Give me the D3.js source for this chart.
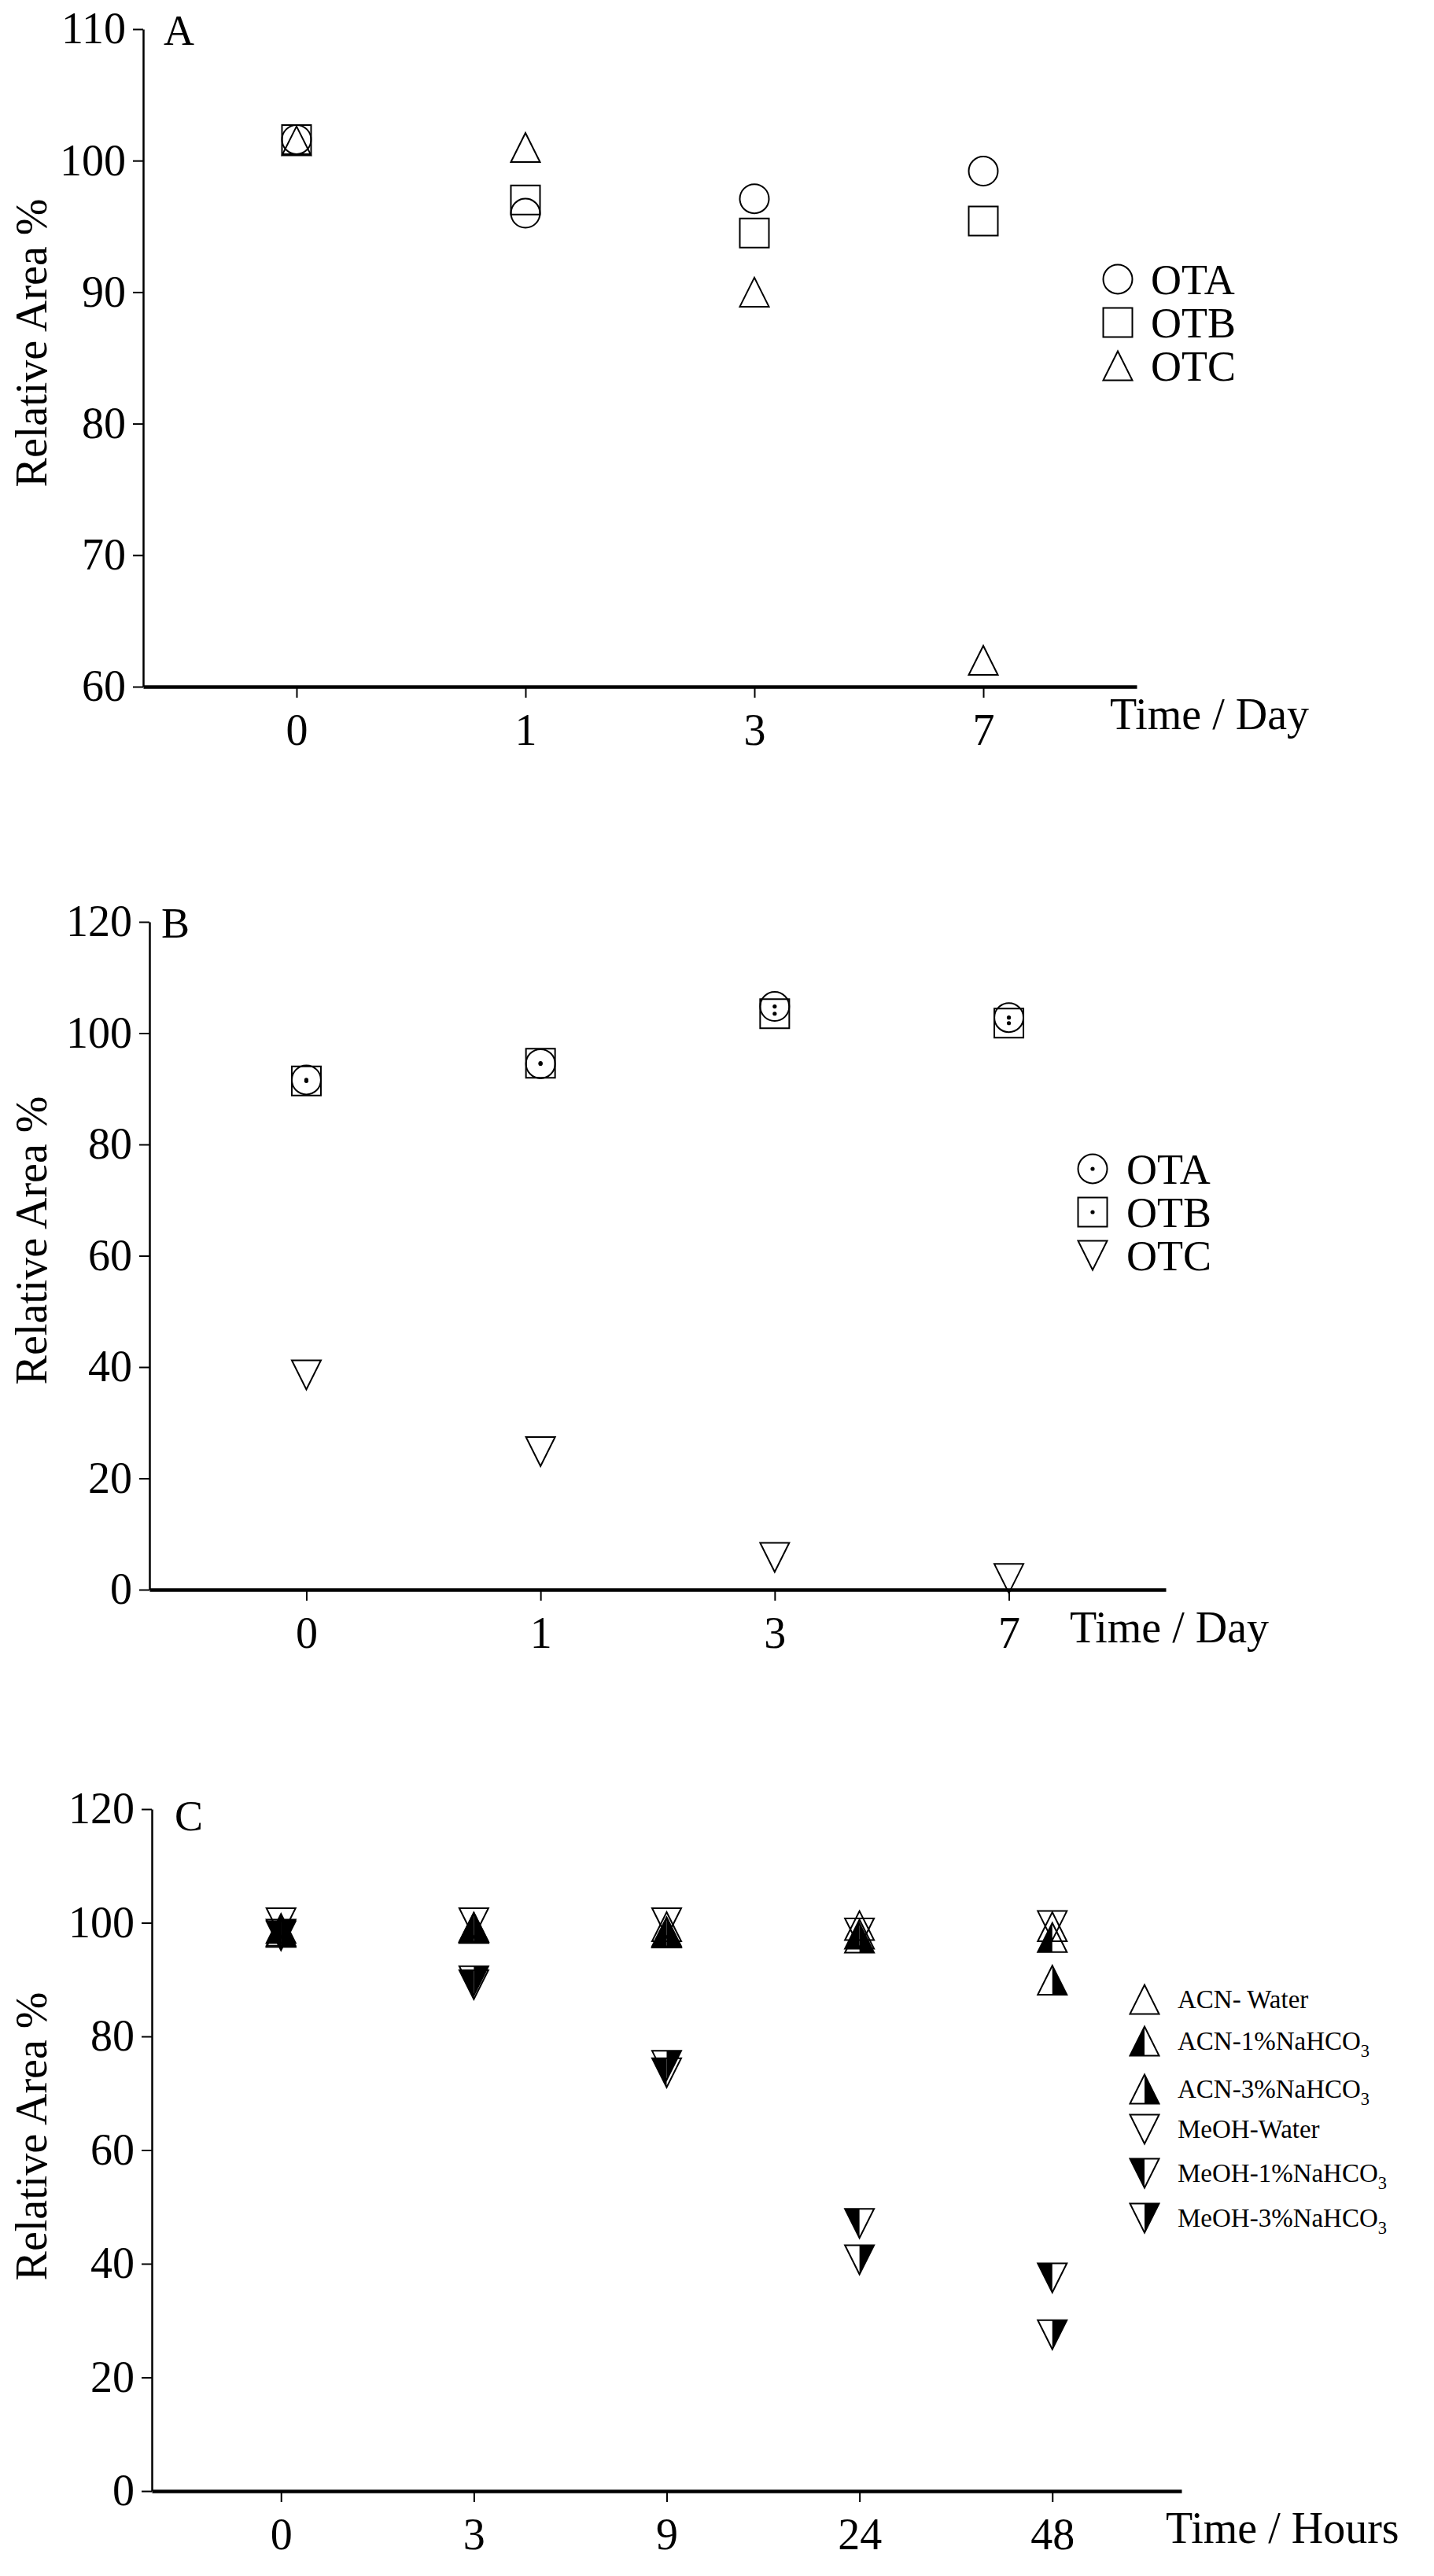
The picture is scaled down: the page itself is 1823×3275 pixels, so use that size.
<!DOCTYPE html>
<html>
<head>
<meta charset="utf-8">
<script src="https://cdn.jsdelivr.net/npm/d3@7"></script>
<style>
  html, body { margin: 0; padding: 0; background: #fff; }
  svg { display: block; }
</style>
</head>
<body>
<svg id="chart" width="1823" height="3275"></svg>
<script>
// ---------------- DATA ----------------
// Panel A
const daysA = ["0", "1", "3", "7"];
const ticksA = [60, 70, 80, 90, 100, 110];
const otaA = [101.6, 96.0, 97.1, 99.2];
const otbA = [101.6, 97.0, 94.5, 95.4];
const otcA = [101.5, 101.0, 90.0, 62.0];

// Panel B
const daysB = ["0", "1", "3", "7"];
const ticksB = [0, 20, 40, 60, 80, 100, 120];
const otaB = [91.6, 94.5, 104.8, 102.8];
const otbB = [91.4, 94.6, 103.5, 101.8];
const otcB = [38.6, 24.8, 5.8, 2.0];

// Panel C
const hoursC = ["0", "3", "9", "24", "48"];
const ticksC = [0, 20, 40, 60, 80, 100, 120];
const acnWater = [98.5, 99.2, 99.3, 99.5, 99.3];
const acn1 = [99.0, 99.2, 98.4, 98.0, 97.4];
const acn3 = [98.3, 99.0, 98.2, 97.3, 89.9];
const meohWater = [100.0, 100.0, 100.0, 98.2, 99.5];
const meoh1 = [97.7, 89.1, 73.6, 47.1, 37.5];
const meoh3 = [98.0, 89.8, 74.9, 40.7, 27.5];

const namesA = ["OTA", "OTB", "OTC"];
const namesC = ["ACN- Water", "ACN-1%NaHCO", "ACN-3%NaHCO", "MeOH-Water", "MeOH-1%NaHCO", "MeOH-3%NaHCO"];
const subsC = ["", "3", "3", "", "3", "3"];

// ---------------- DRAWING ----------------
const SERIF = "'Liberation Serif', 'Times New Roman', serif";
const svg = d3.select("#chart");
svg.append("rect").attr("width", 1823).attr("height", 3275).attr("fill", "#fff");

function shapePath(type, cx, cy, s) {
  const h = s / 2;
  const p = d3.path();
  if (type === "circle") {
    p.arc(cx, cy, h, 0, 2 * Math.PI);
  } else if (type === "square") {
    p.rect(cx - h, cy - h, s, s);
  } else if (type === "up") {
    p.moveTo(cx, cy - h); p.lineTo(cx + h, cy + h); p.lineTo(cx - h, cy + h); p.closePath();
  } else if (type === "down") {
    p.moveTo(cx - h, cy - h); p.lineTo(cx + h, cy - h); p.lineTo(cx, cy + h); p.closePath();
  } else if (type === "upL") {
    p.moveTo(cx, cy - h); p.lineTo(cx, cy + h); p.lineTo(cx - h, cy + h); p.closePath();
  } else if (type === "upR") {
    p.moveTo(cx, cy - h); p.lineTo(cx + h, cy + h); p.lineTo(cx, cy + h); p.closePath();
  } else if (type === "downL") {
    p.moveTo(cx - h, cy - h); p.lineTo(cx, cy - h); p.lineTo(cx, cy + h); p.closePath();
  } else if (type === "downR") {
    p.moveTo(cx, cy - h); p.lineTo(cx + h, cy - h); p.lineTo(cx, cy + h); p.closePath();
  }
  return p.toString();
}

// marker spec: outline shape, optional half fill, optional center dot
function drawMarker(g, spec, cx, cy, s) {
  if (spec.half) {
    g.append("path").attr("d", shapePath(spec.half, cx, cy, s)).attr("fill", "#000").attr("stroke", "none");
  }
  g.append("path").attr("d", shapePath(spec.shape, cx, cy, s))
    .attr("fill", "none").attr("stroke", "#000").attr("stroke-width", 2).attr("stroke-linejoin", "miter");
  if (spec.dot) {
    g.append("circle").attr("cx", cx).attr("cy", cy).attr("r", 2.6).attr("fill", "#000");
  }
}

function drawPanel(p) {
  const g = svg.append("g");
  const x = d3.scalePoint().domain(p.cats).range([p.x0, p.x1]).padding(0.67);
  const y = d3.scaleLinear().domain([p.ticks[0], p.ticks[p.ticks.length - 1]]).range([p.yBottom, p.yTop]);

  // y axis
  const ya = g.append("g").attr("transform", `translate(${p.x0},0)`)
    .call(d3.axisLeft(y).tickValues(p.ticks).tickSize(13).tickSizeOuter(0).tickPadding(9).tickFormat(d3.format("d")));
  ya.select(".domain").attr("stroke", "#000").attr("stroke-width", 2.5);
  ya.selectAll(".tick line").attr("stroke", "#000").attr("stroke-width", 2);
  ya.selectAll(".tick text").attr("font-family", SERIF).attr("font-size", 56).attr("fill", "#000");

  // x axis
  const xa = g.append("g").attr("transform", `translate(0,${p.yBottom})`)
    .call(d3.axisBottom(x).tickSize(14).tickSizeOuter(0).tickPadding(20));
  xa.select(".domain").attr("stroke", "#000").attr("stroke-width", 4.5);
  xa.selectAll(".tick line").attr("stroke", "#000").attr("stroke-width", 2);
  xa.selectAll(".tick text").attr("font-family", SERIF).attr("font-size", 56).attr("fill", "#000");

  // panel letter
  g.append("text").attr("x", p.letterX).attr("y", p.letterY).text(p.letter)
    .attr("font-family", SERIF).attr("font-size", 54).attr("fill", "#000");

  // x title
  g.append("text").attr("x", p.xTitleX).attr("y", p.xTitleY).text(p.xTitle)
    .attr("font-family", SERIF).attr("font-size", 56).attr("fill", "#000");

  // y title
  g.append("text").attr("transform", `translate(59,${p.yTitleY}) rotate(-90)`)
    .attr("text-anchor", "middle").text("Relative Area %")
    .attr("font-family", SERIF).attr("font-size", 56).attr("fill", "#000");

  // data
  p.series.forEach(se => {
    const sg = g.append("g");
    se.values.forEach((v, i) => {
      drawMarker(sg, se.spec, x(p.cats[i]), y(v), p.size);
    });
  });

  // legend
  p.series.forEach((se, i) => {
    const ly = p.legendRows[i];
    drawMarker(g, se.spec, p.legendSymX, ly, p.size);
    const t = g.append("text").attr("x", p.legendTextX).attr("y", ly + p.legendBase)
      .attr("font-family", SERIF).attr("font-size", p.legendFont).attr("fill", "#000");
    t.append("tspan").text(se.name);
    if (se.sub) {
      t.append("tspan").text(se.sub).attr("font-size", p.legendFont * 0.68).attr("dy", p.legendFont * 0.28);
    }
  });
}

drawPanel({
  cats: daysA, ticks: ticksA, x0: 182, x1: 1445, yTop: 37, yBottom: 873, size: 37,
  letter: "A", letterX: 208, letterY: 57,
  xTitle: "Time / Day", xTitleX: 1411, xTitleY: 927, yTitleY: 436,
  series: [
    { name: namesA[0], values: otaA, spec: { shape: "circle" } },
    { name: namesA[1], values: otbA, spec: { shape: "square" } },
    { name: namesA[2], values: otcA, spec: { shape: "up" } }
  ],
  legendSymX: 1421, legendRows: [355, 410, 465], legendTextX: 1463, legendBase: 19, legendFont: 54
});

drawPanel({
  cats: daysB, ticks: ticksB, x0: 190, x1: 1482, yTop: 1172, yBottom: 2021, size: 37,
  letter: "B", letterX: 205, letterY: 1192,
  xTitle: "Time / Day", xTitleX: 1360, xTitleY: 2088, yTitleY: 1577,
  series: [
    { name: namesA[0], values: otaB, spec: { shape: "circle", dot: true } },
    { name: namesA[1], values: otbB, spec: { shape: "square", dot: true } },
    { name: namesA[2], values: otcB, spec: { shape: "down" } }
  ],
  legendSymX: 1389, legendRows: [1486, 1541, 1596], legendTextX: 1432, legendBase: 19, legendFont: 54
});

drawPanel({
  cats: hoursC, ticks: ticksC, x0: 193, x1: 1502, yTop: 2300, yBottom: 3167, size: 37,
  letter: "C", letterX: 222, letterY: 2327,
  xTitle: "Time / Hours", xTitleX: 1482, xTitleY: 3233, yTitleY: 2716,
  series: [
    { name: namesC[0], sub: subsC[0], values: acnWater, spec: { shape: "up" } },
    { name: namesC[1], sub: subsC[1], values: acn1, spec: { shape: "up", half: "upL" } },
    { name: namesC[2], sub: subsC[2], values: acn3, spec: { shape: "up", half: "upR" } },
    { name: namesC[3], sub: subsC[3], values: meohWater, spec: { shape: "down" } },
    { name: namesC[4], sub: subsC[4], values: meoh1, spec: { shape: "down", half: "downL" } },
    { name: namesC[5], sub: subsC[5], values: meoh3, spec: { shape: "down", half: "downR" } }
  ],
  legendSymX: 1455, legendRows: [2542, 2595, 2656, 2707, 2763, 2820], legendTextX: 1497, legendBase: 11, legendFont: 33
});
</script>
</body>
</html>
